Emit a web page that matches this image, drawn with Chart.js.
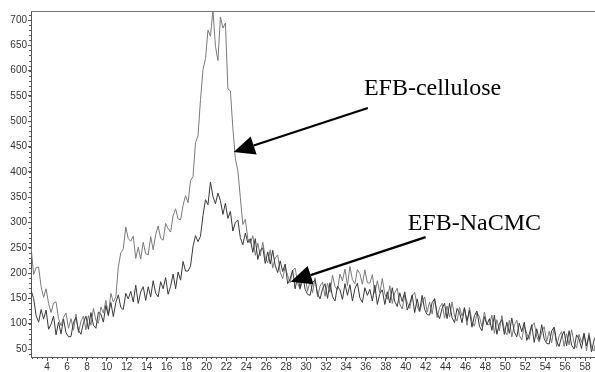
<!DOCTYPE html>
<html>
<head>
<meta charset="utf-8">
<script src="https://cdn.jsdelivr.net/npm/chart.js@4.4.0/dist/chart.umd.min.js"></script>
<style>
html,body{margin:0;padding:0;background:#fff;}
#wrap{width:595px;height:372px;position:relative;}
</style>
</head>
<body>
<div id="wrap"><canvas id="c" width="595" height="372"></canvas></div>
<script>
// 2-theta sampling of the two traces
const angleStart = 2.4;
const angleStep = 0.25;

const efbCellulose = [
250,197,211,212,173,152,169,140,
122,141,143,110,96,113,121,91,
110,87,119,82,105,115,88,116,
97,130,107,101,133,121,146,117,
160,143,153,212,240,248,291,268,
263,273,229,251,228,261,238,236,
272,246,276,293,269,265,298,288,
281,313,327,307,305,334,353,339,
383,391,458,471,543,602,624,680,
668,720,648,620,706,684,694,564,
560,486,426,402,349,296,306,268,
259,274,235,259,234,261,231,220,
246,210,230,236,202,189,213,195,
181,205,210,180,168,186,194,164,
185,161,191,153,174,182,154,180,
162,196,173,167,198,185,208,175,
213,187,179,207,199,178,206,181,
180,197,160,185,161,189,159,148,
175,140,161,170,139,129,157,142,
130,155,162,134,123,143,153,123,
143,119,150,112,132,140,111,135,
113,143,115,105,132,115,133,97,
132,104,95,122,114,94,123,98,
98,117,81,108,86,116,88,78,
107,74,97,107,77,68,96,81,
69,95,102,74,64,84,94,65,
85,62,93,55,76,84,55,80,
58,88,62,52,79,63,82,46,
82,54,46,74
];

const efbNaCMC = [
165,150,116,103,128,109,127,89,
99,115,78,103,80,109,82,74,
75,103,112,87,79,102,115,89,
122,97,91,123,119,103,136,116,
142,114,142,157,132,128,160,149,
164,143,176,140,163,173,146,173,
153,185,160,153,183,169,191,158,
174,198,169,202,186,223,204,204,
214,253,274,262,273,314,345,335,
380,351,337,358,343,316,338,308,
322,283,300,305,270,256,279,260,
268,241,268,227,245,250,219,242,
218,245,215,201,224,203,218,179,
189,206,169,194,170,198,168,158,
156,181,187,159,149,169,179,150,
181,153,145,174,167,148,179,156,
177,145,169,180,151,142,171,156,
168,145,176,138,159,167,138,163,
141,171,144,134,161,144,163,127,
139,157,122,149,126,156,128,118,
117,142,149,121,110,130,140,110,
140,112,102,130,122,102,130,106,
126,93,116,125,95,86,114,98,
110,87,117,79,100,108,79,103,
81,111,84,74,101,84,103,67,
79,98,63,90,68,98,70,61,
60,86,93,65,55,75,85,56,
86,58,50,78,70,51,80,56,
77,44,68,78
];

const xTickLabels = [4,6,8,10,12,14,16,18,20,22,24,26,28,30,32,34,36,38,40,42,44,46,48,50,52,54,56,58];
const yTickLabels = [50,100,150,200,250,300,350,400,450,500,550,600,650,700];

const toPoints = arr => arr.map((v, i) => ({x: +(angleStart + i * angleStep).toFixed(2), y: v}));

// annotations in data coordinates
const labels = [
  {text: 'EFB-cellulose', x: 35.8, y: 552, tipX: 22.73, tipY: 439, tailX: 36.2, tailY: 526},
  {text: 'EFB-NaCMC', x: 40.2, y: 285, tipX: 28.45, tipY: 183, tailX: 42.0, tailY: 271}
];

const extras = {
  id: 'extras',
  afterDraw(chart) {
    const ctx = chart.ctx;
    const xs = chart.scales.x, ys = chart.scales.y;
    const a = chart.chartArea;
    ctx.save();
    ctx.strokeStyle = '#777';
    ctx.lineWidth = 1;
    ctx.beginPath();
    ctx.moveTo(a.left, a.top + 0.5);
    ctx.lineTo(a.right, a.top + 0.5);
    ctx.stroke();
    ctx.strokeStyle = '#555';
    ctx.beginPath();
    for (let v = 2.5; v <= 59; v += 0.5) {
      const px = Math.round(xs.getPixelForValue(v)) + 0.5;
      ctx.moveTo(px, a.bottom);
      ctx.lineTo(px, a.bottom + 2);
    }
    for (let v = 40; v <= 710; v += 10) {
      const py = Math.round(ys.getPixelForValue(v)) + 0.5;
      ctx.moveTo(a.left, py);
      ctx.lineTo(a.left - 2, py);
    }
    ctx.stroke();
    ctx.fillStyle = '#000';
    ctx.strokeStyle = '#000';
    ctx.font = '24px "Liberation Serif", "Times New Roman", serif';
    ctx.textBaseline = 'alphabetic';
    labels.forEach(l => {
      ctx.fillText(l.text, xs.getPixelForValue(l.x), ys.getPixelForValue(l.y));
      const tx = xs.getPixelForValue(l.tipX), ty = ys.getPixelForValue(l.tipY);
      const sx = xs.getPixelForValue(l.tailX), sy = ys.getPixelForValue(l.tailY);
      const dx = sx - tx, dy = sy - ty, len = Math.hypot(dx, dy);
      const ux = dx / len, uy = dy / len;
      const hl = 21, hw = 9.5;
      const bx = tx + ux * hl, by = ty + uy * hl;
      ctx.lineWidth = 2.2;
      ctx.beginPath();
      ctx.moveTo(bx, by);
      ctx.lineTo(sx, sy);
      ctx.stroke();
      ctx.beginPath();
      ctx.moveTo(tx, ty);
      ctx.lineTo(bx - uy * hw, by + ux * hw);
      ctx.lineTo(bx + uy * hw, by - ux * hw);
      ctx.closePath();
      ctx.fill();
    });
    ctx.restore();
  }
};

new Chart(document.getElementById('c'), {
  type: 'line',
  data: {
    datasets: [
      {label: 'EFB-NaCMC', data: toPoints(efbNaCMC), borderColor: '#383838', borderWidth: 1, pointRadius: 0, tension: 0, order: 0},
      {label: 'EFB-cellulose', data: toPoints(efbCellulose), borderColor: '#7a7a7a', borderWidth: 1, pointRadius: 0, tension: 0, order: 1}
    ]
  },
  options: {
    responsive: false,
    animation: false,
    devicePixelRatio: 1,
    layout: {padding: {top: 11, right: 0, left: 0, bottom: 0}},
    plugins: {legend: {display: false}, tooltip: {enabled: false}},
    elements: {line: {borderJoinStyle: 'miter'}},
    scales: {
      x: {
        type: 'linear',
        min: 2.385,
        max: 59.0,
        afterBuildTicks: s => { s.ticks = xTickLabels.map(v => ({value: v})); },
        afterFit: s => { s.height = 15; },
        grid: {display: true, drawOnChartArea: false, drawTicks: true, tickLength: 4, color: '#555'},
        border: {display: true, color: '#555', width: 1},
        ticks: {padding: 0, maxRotation: 0, autoSkip: false, color: '#333', font: {family: '"Liberation Sans", Arial, sans-serif', size: 10}}
      },
      y: {
        type: 'linear',
        min: 34.2,
        max: 717.8,
        afterBuildTicks: s => { s.ticks = yTickLabels.map(v => ({value: v})); },
        afterFit: s => { s.width = 31; },
        grid: {display: true, drawOnChartArea: false, drawTicks: true, tickLength: 3, color: '#555'},
        border: {display: true, color: '#555', width: 1},
        ticks: {padding: 1, autoSkip: false, color: '#333', font: {family: '"Liberation Sans", Arial, sans-serif', size: 10}}
      }
    }
  },
  plugins: [extras]
});
</script>
</body>
</html>
